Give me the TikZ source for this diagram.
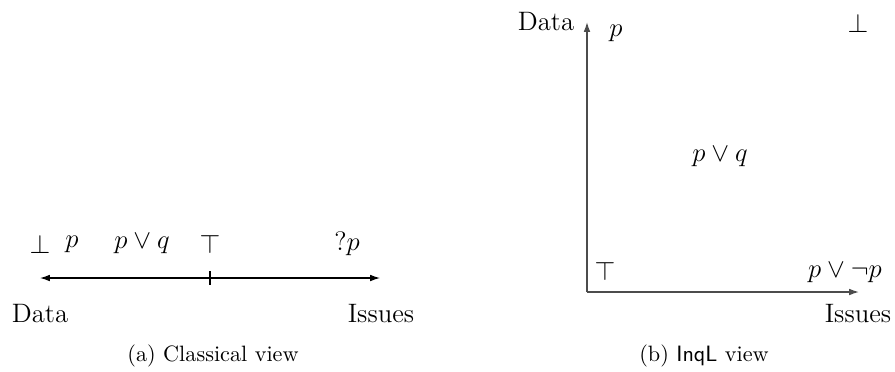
\documentclass[tikz,border=0pt]{standalone}
\usepackage{fontspec}
\usetikzlibrary{arrows.meta}
\begin{document}
\begin{tikzpicture}[x=0.45pt,y=-0.45pt,
  lbl/.style={font=\large, inner sep=0pt},
  captext/.style={font=\normalsize, inner sep=0pt},
  tip/.style={-{Latex[length=4.4pt,width=3pt]}},
  bothtip/.style={{Latex[length=4.4pt,width=3pt]}-{Latex[length=4.4pt,width=3pt]}},
  axisline/.style={draw=black!70, line width=0.6pt},
  classline/.style={draw=black, line width=0.55pt}]
\useasboundingbox (0,0) rectangle (895,371);
% ---------- (a) classical view ----------
\coordinate (lL) at (40,278);
\coordinate (lR) at (380,278);
\coordinate (tkT) at (210,271);
\coordinate (tkB) at (210,285);
\draw[classline, bothtip] (lL) -- (lR);
\draw[classline] (tkT) -- (tkB);
\node[lbl] (abot) at (40,244) {$\bot$};
\node[lbl] (ap) at (72,244) {$p$};
\node[lbl] (apq) at (142,244) {$p\vee q$};
\node[lbl] (atop) at (210,244) {$\top$};
\node[lbl] (aqp) at (347,244) {$?p$};
\node[lbl] (adata) at (40,314) {Data};
\node[lbl] (aiss) at (381,314) {Issues};
\node[captext] (acap) at (213,356) {(a) Classical view};
% ---------- (b) InqL view ----------
\coordinate (O) at (587,292);
\coordinate (yend) at (587,22);
\coordinate (xend) at (859,292);
\draw[axisline, tip] (O) -- (yend);
\draw[axisline, tip] (O) -- (xend);
\node[lbl] (bdata) at (546,22) {Data};
\node[lbl] (bp) at (616,33) {$p$};
\node[lbl] (bbot) at (858,23) {$\bot$};
\node[lbl] (bpq) at (720,157) {$p\vee q$};
\node[lbl] (btop) at (605,271) {$\top$};
\node[lbl] (bpnp) at (845,273) {$p\vee\neg p$};
\node[lbl] (biss) at (858,314) {Issues};
\node[captext] (bcap) at (704,356) {(b) \textsf{InqL} view};
\end{tikzpicture}
\end{document}
